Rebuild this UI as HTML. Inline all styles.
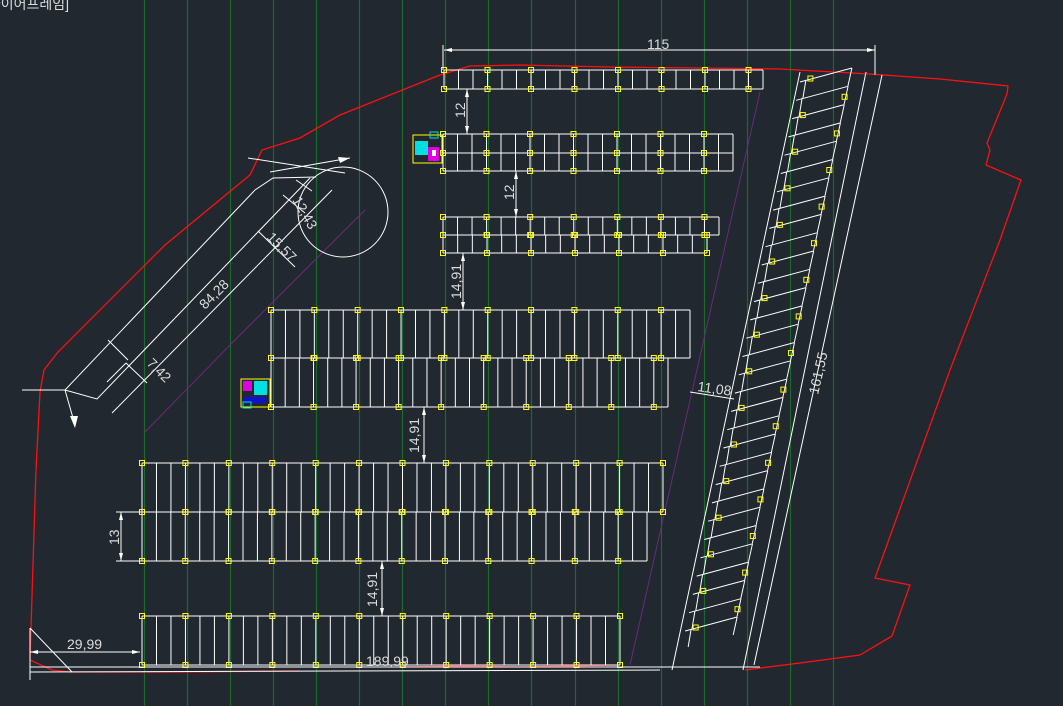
<!DOCTYPE html>
<html><head><meta charset="utf-8"><style>
html,body{margin:0;padding:0;background:#212830;}
svg{display:block}
text{font-family:"Liberation Sans","Noto Sans CJK KR",sans-serif;fill:#dcdcdc;font-size:14px}
</style></head><body>
<svg id="s" width="1063" height="706" viewBox="0 0 1063 706" xmlns="http://www.w3.org/2000/svg">
<rect width="1063" height="706" fill="#212830"/>
<g id="green" stroke="#1a6a2c" stroke-width="1.2"></g>
<g stroke="#6a2a7a" stroke-width="1" fill="none">
<polyline points="145,432 230,345 305,270 365,210"/>
<line x1="760" y1="92" x2="630" y2="665"/>
</g>
<g stroke="#ff1010" stroke-width="1.3" fill="none">
<polyline points="40,392 44,370 58,352 165,245 250,175 262,150 300,138 340,115 440,75 470,66 520,65 610,67 700,68 780,69 870,74 940,79 1008,86 1007,94 987,143 990,150 986,165 1021,180 1000,240 950,370 875,578 910,585 892,636 860,655 800,663 745,670"/>
<polyline points="40,392 36,470 30,660 52,670 70,672 180,672 300,671"/>
<polyline points="400,667 460,666 520,667 620,665"/>
</g>
<g id="wht" stroke="#ffffff" stroke-width="1" fill="none"></g>
<g id="ylw" stroke="#ffff00" stroke-width="1" fill="none"></g>
<g stroke="#ffffff" stroke-width="1" fill="none">
<polyline points="22,390 65,390 97,399 310,178"/>
<polyline points="65,390 255,190 273,178 316,177"/>
<line x1="112" y1="413" x2="332" y2="190"/>
<line x1="107" y1="382" x2="126" y2="363"/>
<line x1="126" y1="363" x2="147" y2="383"/>
<line x1="108" y1="340" x2="128" y2="360"/>
<line x1="248" y1="158" x2="345" y2="173"/>
<line x1="270" y1="172" x2="350" y2="158"/>
<line x1="65" y1="390" x2="75" y2="425"/>
<line x1="283" y1="195" x2="305" y2="213"/>
<line x1="296" y1="180" x2="312" y2="191"/>
<line x1="258" y1="231" x2="295" y2="267"/>
<circle cx="343" cy="212" r="45"/>
<line x1="444" y1="50" x2="875" y2="50"/>
<line x1="443" y1="45" x2="443" y2="70"/>
<line x1="875" y1="45" x2="875" y2="75"/>
<line x1="467" y1="89" x2="467" y2="134"/>
<line x1="516" y1="171" x2="516" y2="217"/>
<line x1="463" y1="253" x2="463" y2="310"/>
<line x1="424" y1="407" x2="424" y2="463"/>
<line x1="382" y1="561" x2="382" y2="616"/>
<line x1="121" y1="512" x2="121" y2="561"/>
<line x1="116" y1="512" x2="142" y2="512"/>
<line x1="116" y1="561" x2="142" y2="561"/>
<line x1="30" y1="628" x2="30" y2="680"/>
<line x1="30" y1="652" x2="140" y2="652"/>
<line x1="30" y1="628" x2="72" y2="672"/>
<line x1="30" y1="667" x2="760" y2="667"/>
<line x1="30" y1="672" x2="660" y2="670"/>
<line x1="800" y1="72" x2="672" y2="670"/>
<line x1="866" y1="72" x2="743" y2="670"/>
<line x1="882" y1="75" x2="754" y2="665"/>
<line x1="690" y1="392" x2="734" y2="399"/>
</g>
<g fill="#ffffff">
<polygon points="444,50 452,48 452,52"/><polygon points="875,50 867,48 867,52"/>
<polygon points="467,89 465,97 469,97"/><polygon points="467,134 465,126 469,126"/>
<polygon points="516,171 514,179 518,179"/><polygon points="516,217 514,209 518,209"/>
<polygon points="463,253 461,261 465,261"/><polygon points="463,310 461,302 465,302"/>
<polygon points="424,407 422,415 426,415"/><polygon points="424,463 422,455 426,455"/>
<polygon points="382,561 380,569 384,569"/><polygon points="382,616 380,608 384,608"/>
<polygon points="121,512 119,520 123,520"/><polygon points="121,561 119,553 123,553"/>
<polygon points="140,652 132,650 132,654"/><polygon points="30,652 38,650 38,654"/>
<polygon points="350,158 338,157 340,163"/>
<polygon points="75,428 70,416 78,416"/>
</g>
<g>
<rect x="413" y="135" width="29" height="28" fill="none" stroke="#ffff00"/>
<rect x="415" y="141" width="13" height="14" fill="#00e0e0"/>
<rect x="428" y="147" width="11" height="14" fill="#e000e0"/>
<rect x="432" y="150" width="4" height="6" fill="#fff"/>
<rect x="430" y="132" width="8" height="6" fill="none" stroke="#00e0e0"/>
<rect x="241" y="379" width="29" height="28" fill="none" stroke="#ffff00"/>
<rect x="243" y="381" width="9" height="10" fill="#e000e0"/>
<rect x="254" y="381" width="13" height="14" fill="#00e0e0"/>
<rect x="243" y="397" width="22" height="6" fill="#1010d0"/>
<rect x="243" y="402" width="8" height="6" fill="none" stroke="#00e0e0"/>
</g>
<text x="-16" y="9" font-size="15">[와이어프레임]</text>
<text x="647" y="49">115</text>
<text transform="translate(465,118) rotate(-90)">12</text>
<text transform="translate(514,200) rotate(-90)">12</text>
<text transform="translate(461,299) rotate(-90)">14,91</text>
<text transform="translate(419,453) rotate(-90)">14,91</text>
<text transform="translate(377,607) rotate(-90)">14,91</text>
<text transform="translate(119,545) rotate(-90)">13</text>
<text x="67" y="649">29,99</text>
<text x="366" y="666">189,99</text>
<text transform="translate(697,391) rotate(8)">11,08</text>
<text transform="translate(818,395) rotate(-77)">161,55</text>
<text transform="translate(205,310) rotate(-45)">84,28</text>
<text transform="translate(266,238) rotate(45)">15,57</text>
<text transform="translate(292,200) rotate(60)">12,43</text>
<text transform="translate(146,364) rotate(45)">7,42</text>
</svg>
<script>
var NS="http://www.w3.org/2000/svg";
function el(p,t,a){var e=document.createElementNS(NS,t);for(var k in a)e.setAttribute(k,a[k]);document.getElementById(p).appendChild(e);return e;}
for(var x=144;x<=840;x+=43.05){el("green","line",{x1:Math.round(x)+.5,y1:0,x2:Math.round(x)+.5,y2:706});}
function row(x1,y1,y2,xe,cw){
  el("wht","line",{x1:x1,y1:y1,x2:xe,y2:y1});
  el("wht","line",{x1:x1,y1:y2,x2:xe,y2:y2});
  var n=Math.round((xe-x1)/cw),w=(xe-x1)/n;
  for(var i=0;i<=n;i++){var x=x1+i*w;el("wht","line",{x1:x,y1:y1,x2:x,y2:y2});
    if(i%3==0){el("ylw","rect",{x:x-2.5,y:y1-2.5,width:5,height:5});el("ylw","rect",{x:x-2.5,y:y2-2.5,width:5,height:5});}}
}
function dbl(x1,y1,ym,y2,xe1,xe2,cw){row(x1,y1,ym,xe1,cw);row(x1,ym,y2,xe2,cw);}
row(444,70,89,763,14.5);
dbl(443,134,153,171,733,733,14.5);
dbl(443,217,235,253,719,707,14.5);
dbl(271,310,358,407,690,668,14.3);
dbl(142,463,512,561,663,647,14.4);
row(142,616,665,620,14.4);
for(var k=0;k<32;k++){
  var y=82+k*18.3; if(y>640)break;
  var x=800-0.209*(y-72)+2;
  el("wht","line",{x1:x,y1:y,x2:x+52,y2:y-14});
  var xr=x+52, yr=y-14;
  el("wht","line",{x1:xr,y1:yr,x2:xr-4,y2:yr+18});
  el("wht","line",{x1:x+6,y1:y-2,x2:x+3,y2:y+16});
  if(k%2==0){el("ylw","rect",{x:x+8,y:y-6,width:5,height:5});}
  else{el("ylw","rect",{x:xr-6,y:yr+8,width:5,height:5});}
}
</script>
</body></html>
